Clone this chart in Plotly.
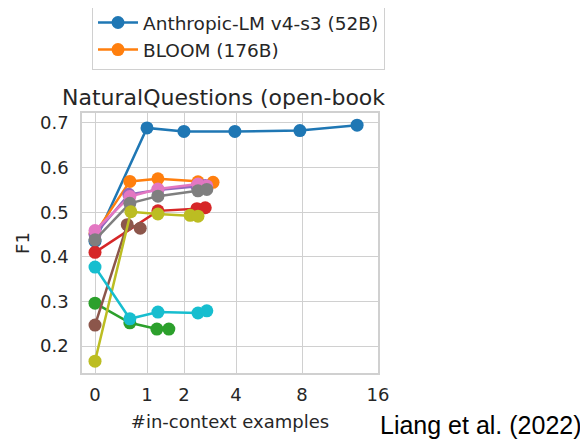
import plotly.graph_objects as go

# tick labels and where they sit on the (irregular) x scale
tick_text = ["0", "1", "2", "4", "8", "16"]
tick_pos = [0, 1.0, 1.712, 2.712, 3.981, 5.442]

names = ["Anthropic-LM v4-s3 (52B)", "BLOOM (176B)", "green", "red", "purple",
         "brown", "pink", "gray", "olive", "cyan"]
colors = ["#1f77b4", "#ff7f0e", "#2ca02c", "#d62728", "#9467bd",
          "#8c564b", "#e377c2", "#7f7f7f", "#bcbd22", "#17becf"]

blue_x = [0, 1.0, 1.71, 2.69, 3.94, 5.04]
blue_y = [0.435, 0.689, 0.681, 0.681, 0.683, 0.695]
orange_x = [0, 0.67, 1.21, 1.98, 2.27]
orange_y = [0.452, 0.569, 0.575, 0.568, 0.567]
green_x = [0, 0.67, 1.19, 1.42]
green_y = [0.296, 0.252, 0.238, 0.238]
red_x = [0, 1.21, 1.96, 2.12]
red_y = [0.41, 0.503, 0.508, 0.51]
purple_x = [0, 0.65, 1.21, 1.96, 2.12]
purple_y = [0.45, 0.54, 0.55, 0.558, 0.56]
brown_x = [0, 0.62, 0.87]
brown_y = [0.247, 0.472, 0.464]
pink_x = [0, 0.67, 1.21, 1.98, 2.15]
pink_y = [0.459, 0.535, 0.552, 0.563, 0.559]
gray_x = [0, 0.67, 1.21, 1.98, 2.15]
gray_y = [0.438, 0.52, 0.536, 0.548, 0.551]
olive_x = [0, 0.69, 1.21, 1.83, 1.98]
olive_y = [0.166, 0.501, 0.496, 0.493, 0.491]
cyan_x = [0, 0.67, 1.21, 1.98, 2.15]
cyan_y = [0.377, 0.261, 0.276, 0.274, 0.279]

series = [(blue_x, blue_y), (orange_x, orange_y), (green_x, green_y), (red_x, red_y),
          (purple_x, purple_y), (brown_x, brown_y), (pink_x, pink_y), (gray_x, gray_y),
          (olive_x, olive_y), (cyan_x, cyan_y)]

fig = go.Figure()
for i, (xs, ys) in enumerate(series):
    fig.add_trace(go.Scatter(
        x=xs, y=ys, mode="lines+markers", name=names[i],
        line=dict(color=colors[i], width=2.5),
        marker=dict(color=colors[i], size=13),
        showlegend=(i < 2),
    ))

# the page body has an 8px margin, so the figure starts at (8, 8)
OFF = 8
FW, FH = 588 - OFF, 441 - OFF
# plot area in window pixels: x 82..378, y 113..373
L, R, T, B = 82, 378, 113, 373
W, H = R - L, B - T


def px(x, y):
    return (x - L) / W, (B - y) / H


font = "DejaVu Sans"
lx, ly = px(92, 3)
fig.update_layout(
    width=FW, height=FH,
    margin=dict(l=L - OFF, r=588 - R, t=T - OFF, b=441 - B, autoexpand=False),
    paper_bgcolor="white", plot_bgcolor="white",
    font=dict(family=font, color="#262626", size=18),
    legend=dict(x=lx, y=ly, xanchor="left", yanchor="top",
                bordercolor="#d0d0d0", borderwidth=1,
                font=dict(size=18.5, color="#262626"),
                itemwidth=40, tracegroupgap=2),
    xaxis=dict(range=[-0.25, 5.442], tickvals=tick_pos, ticktext=tick_text,
               showgrid=True, gridcolor="#d0d0d0", gridwidth=1.2,
               showline=True, linecolor="#d0d0d0", linewidth=1.5, mirror=True,
               zeroline=False, ticks="", tickfont=dict(size=18), automargin=False,
               ticklabelstandoff=5,
               title=dict(text="#in-context examples", font=dict(size=18), standoff=11)),
    yaxis=dict(range=[0.1395, 0.7224], tickvals=[0.2, 0.3, 0.4, 0.5, 0.6, 0.7],
               ticktext=["0.2", "0.3", "0.4", "0.5", "0.6", "0.7"],
               showgrid=True, gridcolor="#d0d0d0", gridwidth=1.2,
               showline=True, linecolor="#d0d0d0", linewidth=1.5, mirror=True,
               zeroline=False, ticks="", tickfont=dict(size=18), automargin=False,
               ticklabelstandoff=8,
               title=dict(text="F1", font=dict(size=18), standoff=6)),
)

tx, ty = px(60, 97)
fig.add_annotation(text="NaturalQuestions (open-book", x=tx, y=ty,
                   xref="paper", yref="paper", showarrow=False,
                   xanchor="left", yanchor="middle", font=dict(size=22, color="#262626"))

cx, cy = px(584, 425)
fig.add_annotation(text="Liang et al. (2022)", x=cx, y=cy,
                   xref="paper", yref="paper", showarrow=False,
                   xanchor="right", yanchor="middle",
                   font=dict(family="Liberation Sans", size=25, color="black"))

fig.write_html("out.html")
